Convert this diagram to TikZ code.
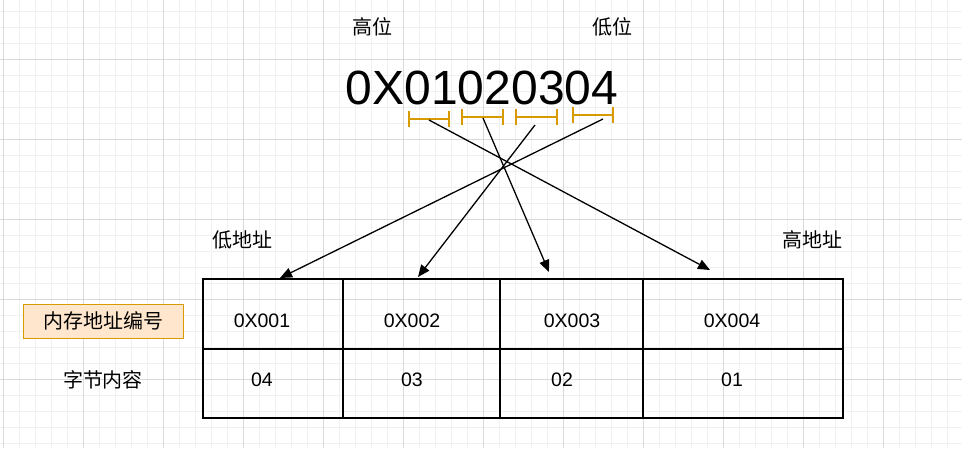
\documentclass[tikz,border=0pt]{standalone}
\usepackage{fontspec}
\usetikzlibrary{arrows.meta}
\setmainfont{Liberation Sans}
\newfontfamily\cjk{Noto Sans CJK SC}
\begin{document}
\begin{tikzpicture}[x=1pt,y=-1pt,
  lab/.style={font=\cjk\fontsize{20}{23}\selectfont, inner sep=0},
  cell/.style={font=\fontsize{19.5}{22}\selectfont, inner sep=0},
  arr/.style={-{Triangle[length=12pt,width=10pt]}, line width=1.3pt}]
\path[use as bounding box] (0,0) rectangle (962,448);
\foreach \x in {3,19,...,962} \draw[gray!12, line width=0.6pt] (\x,0) -- (\x,448);
\foreach \y in {11,27,...,448} \draw[gray!12, line width=0.6pt] (0,\y) -- (962,\y);
\foreach \x in {3,83,...,962} \draw[gray!30, line width=0.8pt] (\x,0) -- (\x,448);
\foreach \y in {59,139,...,448} \draw[gray!30, line width=0.8pt] (0,\y) -- (962,\y);
\node[lab] (hi) at (372,27) {高位};
\node[lab] (lo) at (612,27) {低位};
\node[font=\fontsize{48}{56}\selectfont, inner sep=0] (num) at (482,88) {0X01020304};
\node[lab] (la) at (242,240) {低地址};
\node[lab] (ha) at (812,240) {高地址};
\node[draw={rgb,255:red,215;green,155;blue,0}, fill={rgb,255:red,255;green,230;blue,204}, minimum width=160, minimum height=34, lab] (mem) at (103,321) {内存地址编号};
\node[lab] (cont) at (103,380) {字节内容};
\draw[line width=1.3pt] (203,279) rectangle (843,418);
\draw[line width=1.3pt] (203,349) -- (843,349) (343,279) -- (343,418) (500,279) -- (500,418) (643,279) -- (643,418);
\node[cell] (a1) at (262,321) {0X001}; \node[cell] (b1) at (262,380) {04};
\node[cell] (a2) at (412,321) {0X002}; \node[cell] (b2) at (412,380) {03};
\node[cell] (a3) at (572,321) {0X003}; \node[cell] (b3) at (562,380) {02};
\node[cell] (a4) at (732,321) {0X004}; \node[cell] (b4) at (732,380) {01};
\foreach \a/\b/\y in {409/449/119,462/503/117,516/557/117,573/613/115}{
  \draw[line width=1.5pt, color={rgb,255:red,215;green,155;blue,0}] (\a,\y) -- (\b,\y) (\a,\y-8) -- (\a,\y+8) (\b,\y-8) -- (\b,\y+8);
}
\coordinate (s1) at (429,120); \coordinate (s2) at (483,118);
\coordinate (s3) at (535,125); \coordinate (s4) at (603,119);
\coordinate (t1) at (710,270); \coordinate (t2) at (549,272);
\coordinate (t3) at (418,277); \coordinate (t4) at (280,278);
\draw[arr] (s1) -- (t1);
\draw[arr] (s2) -- (t2);
\draw[arr] (s3) -- (t3);
\draw[arr] (s4) -- (t4);
\end{tikzpicture}
\end{document}
